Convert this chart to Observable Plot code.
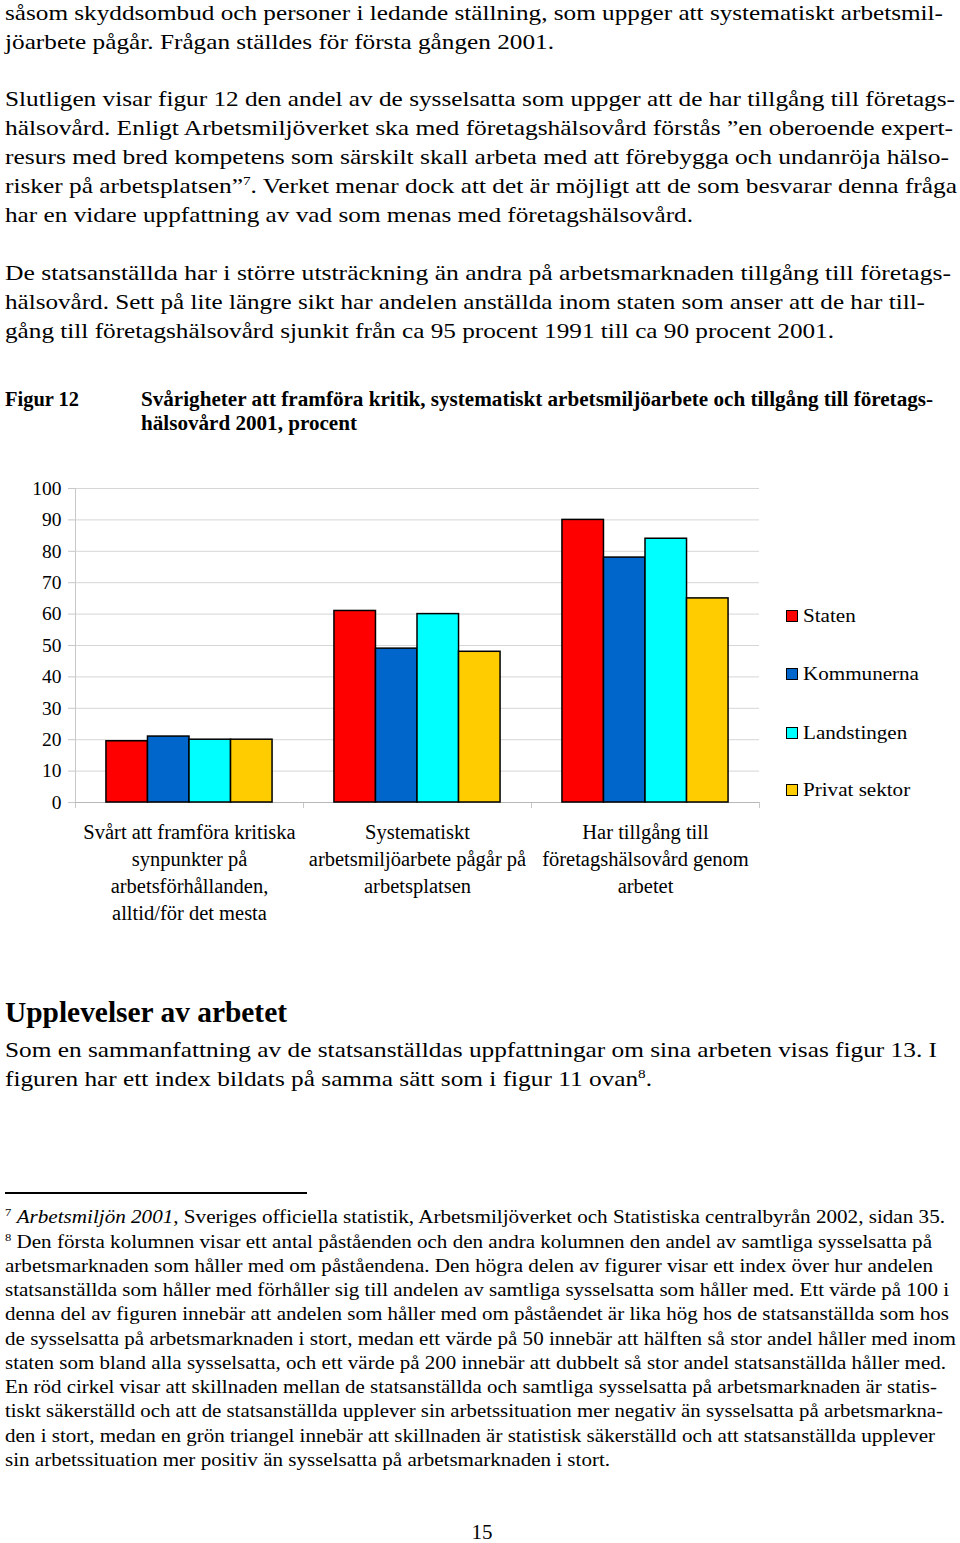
<!DOCTYPE html>
<html lang="sv">
<head>
<meta charset="utf-8">
<script src="https://cdn.jsdelivr.net/npm/d3@7"></script>
<script src="https://cdn.jsdelivr.net/npm/@observablehq/plot@0.6"></script>
<style>
  html, body { margin: 0; padding: 0; background: #fff; }
  #page { position: relative; width: 960px; height: 1543px; overflow: hidden; font-family: "Liberation Serif", "Times New Roman", serif; color: #000; }
  .ln { position: absolute; left: 5px; white-space: nowrap; width: max-content; transform-origin: 0 50%; }
  sup { font-size: 0.6em; vertical-align: 0.6em; line-height: 0; }
  #chart { position: absolute; left: 0; top: 460px; }
  .sw { position: absolute; left: 786px; font-size: 19px; line-height: 22px; white-space: nowrap; }
  .sw i { display: inline-block; width: 10px; height: 10px; border: 1px solid #000; margin-right: 5px; vertical-align: 0px; }
  .sw span { display: inline-block; transform: scaleX(1.11); transform-origin: 0 50%; }
</style>
</head>
<body>
<div id="page"></div>
<script>
// ---- chart data ----
const groups = [
  "Svårt att framföra kritiska\nsynpunkter på\narbetsförhållanden,\nalltid/för det mesta",
  "Systematiskt\narbetsmiljöarbete pågår på\narbetsplatsen",
  "Har tillgång till\nföretagshälsovård genom\narbetet"
];
const series = ["Staten", "Kommunerna", "Landstingen", "Privat sektor"];
const colors = ["#ff0000", "#0066cc", "#00ffff", "#ffcc00"];
const staten = [19.5, 61, 90];
const kommunerna = [21, 49, 78];
const landstingen = [20, 60, 84];
const privatSektor = [20, 48, 65];
const yTicks = [0, 10, 20, 30, 40, 50, 60, 70, 80, 90, 100];

// ---- page text (line, center y, right edge, style) ----
const textLines = [
  ["såsom skyddsombud och personer i ledande ställning, som uppger att systematiskt arbetsmil-", 12, 943, "b"],
  ["jöarbete pågår. Frågan ställdes för första gången 2001.", 41, 554, "b"],
  ["Slutligen visar figur 12 den andel av de sysselsatta som uppger att de har tillgång till företags-", 98, 955, "b"],
  ["hälsovård. Enligt Arbetsmiljöverket ska med företagshälsovård förstås ”en oberoende expert-", 127, 953, "b"],
  ["resurs med bred kompetens som särskilt skall arbeta med att förebygga och undanröja hälso-", 156, 949, "b"],
  ["risker på arbetsplatsen”<sup>7</sup>. Verket menar dock att det är möjligt att de som besvarar denna fråga", 185, 957, "b"],
  ["har en vidare uppfattning av vad som menas med företagshälsovård.", 214, 693, "b"],
  ["De statsanställda har i större utsträckning än andra på arbetsmarknaden tillgång till företags-", 272, 951, "b"],
  ["hälsovård. Sett på lite längre sikt har andelen anställda inom staten som anser att de har till-", 301, 925, "b"],
  ["gång till företagshälsovård sjunkit från ca 95 procent 1991 till ca 90 procent 2001.", 330, 834, "b"],
  ["Upplevelser av arbetet", 1012, 287, "h"],
  ["Som en sammanfattning av de statsanställdas uppfattningar om sina arbeten visas figur 13. I", 1049, 937, "b"],
  ["figuren har ett index bildats på samma sätt som i figur 11 ovan<sup>8</sup>.", 1078, 652, "b"],
  ["<sup>7</sup> <i>Arbetsmiljön 2001</i>, Sveriges officiella statistik, Arbetsmiljöverket och Statistiska centralbyrån 2002, sidan 35.", 1217, 945, "f"],
  ["<sup>8</sup> Den första kolumnen visar ett antal påståenden och den andra kolumnen den andel av samtliga sysselsatta på", 1242, 932, "f"],
  ["arbetsmarknaden som håller med om påståendena. Den högra delen av figurer visar ett index över hur andelen", 1266, 933, "f"],
  ["statsanställda som håller med förhåller sig till andelen av samtliga sysselsatta som håller med. Ett värde på 100 i", 1290, 949, "f"],
  ["denna del av figuren innebär att andelen som håller med om påståendet är lika hög hos de statsanställda som hos", 1314, 949, "f"],
  ["de sysselsatta på arbetsmarknaden i stort, medan ett värde på 50 innebär att hälften så stor andel håller med inom", 1339, 956, "f"],
  ["staten som bland alla sysselsatta, och ett värde på 200 innebär att dubbelt så stor andel statsanställda håller med.", 1363, 946, "f"],
  ["En röd cirkel visar att skillnaden mellan de statsanställda och samtliga sysselsatta på arbetsmarknaden är statis-", 1387, 937, "f"],
  ["tiskt säkerställd och att de statsanställda upplever sin arbetssituation mer negativ än sysselsatta på arbetsmarkna-", 1411, 943, "f"],
  ["den i stort, medan en grön triangel innebär att skillnaden är statistisk säkerställd och att statsanställda upplever", 1436, 935, "f"],
  ["sin arbetssituation mer positiv än sysselsatta på arbetsmarknaden i stort.", 1460, 610, "f"]
];
const styles = {
  b: {size: 22, lh: 29, weight: 400},
  h: {size: 29, lh: 34, weight: 700},
  f: {size: 18.3, lh: 24, weight: 400}
};

const page = document.getElementById("page");
function addLine(html, cy, right, st, left = 5) {
  const s = styles[st] || st;
  const d = document.createElement("div");
  d.className = "ln";
  d.innerHTML = html;
  d.style.left = left + "px";
  d.style.top = (cy - s.lh / 2) + "px";
  d.style.height = s.lh + "px";
  d.style.lineHeight = s.lh + "px";
  d.style.fontSize = s.size + "px";
  d.style.fontWeight = s.weight;
  page.appendChild(d);
  const natural = d.getBoundingClientRect().width;
  if (natural > 0) d.style.transform = `scaleX(${(right - left) / natural})`;
}
textLines.forEach(([t, cy, r, st]) => addLine(t, cy, r, st));

// figure caption
const capStyle = {size: 20, lh: 24, weight: 700};
addLine("Figur 12", 399, 79, capStyle);
addLine("Svårigheter att framföra kritik, systematiskt arbetsmiljöarbete och tillgång till företags-", 399, 933, capStyle, 141);
addLine("hälsovård 2001, procent", 423, 357, capStyle, 141);

// footnote rule
const rule = document.createElement("div");
Object.assign(rule.style, {position: "absolute", left: "5px", top: "1192px", width: "302px", height: "1.5px", background: "#000"});
page.appendChild(rule);

// page number
const pn = document.createElement("div");
Object.assign(pn.style, {position: "absolute", left: "462px", width: "40px", top: "1520px", textAlign: "center", fontSize: "21px", lineHeight: "24px"});
pn.textContent = "15";
page.appendChild(pn);

// ---- chart ----
const valuesBySeries = [staten, kommunerna, landstingen, privatSektor];
const data = groups.flatMap((g, i) => series.map((s, j) => ({group: g, series: s, value: valuesBySeries[j][i]})));

const chart = Plot.plot({
  width: 960,
  height: 480,
  marginLeft: 74,
  marginRight: 201,
  marginTop: 28,
  marginBottom: 138,
  style: {fontFamily: "Liberation Serif, serif", fontSize: "18px", color: "#000", background: "transparent"},
  fx: {domain: groups, padding: 0, label: null},
  x: {domain: series, paddingInner: 0, paddingOuter: 0.745, round: false, axis: null},
  y: {domain: [0, 100], label: null},
  color: {domain: series, range: colors},
  marks: [
    Plot.ruleY(yTicks, {stroke: "#d6d6d6", strokeWidth: 1}),
    Plot.axisY(yTicks, {tickSize: 7, tickPadding: 7, stroke: "#c8c8c8", fill: "#000", label: null, fontSize: 19.5}),
    Plot.frame({anchor: "left", stroke: "#c8c8c8", insetBottom: -5, facetAnchor: "left"}),
    Plot.frame({anchor: "left", stroke: "#c8c8c8", insetTop: 314, insetBottom: -5}),
    Plot.frame({anchor: "right", stroke: "#c8c8c8", insetTop: 314, insetBottom: -5}),
    Plot.ruleY([0], {stroke: "#b8b8b8"}),
    Plot.barY(data, {fx: "group", x: "series", y: "value", fill: "series", stroke: "#000", strokeWidth: 1.5}),
    Plot.axisFx({anchor: "bottom", tickSize: 0, tickPadding: 17, label: null, lineHeight: 1.32, fontSize: 20.5, fill: "#000"})
  ]
});
const wrap = document.createElement("div");
wrap.id = "chart";
wrap.appendChild(chart);
page.appendChild(wrap);

// legend
const legendY = [616, 674, 733, 790];
series.forEach((s, i) => {
  const d = document.createElement("div");
  d.className = "sw";
  d.style.top = (legendY[i] - 11) + "px";
  d.innerHTML = `<i style="background:${colors[i]}"></i><span>${s}</span>`;
  page.appendChild(d);
});
</script>
</body>
</html>
